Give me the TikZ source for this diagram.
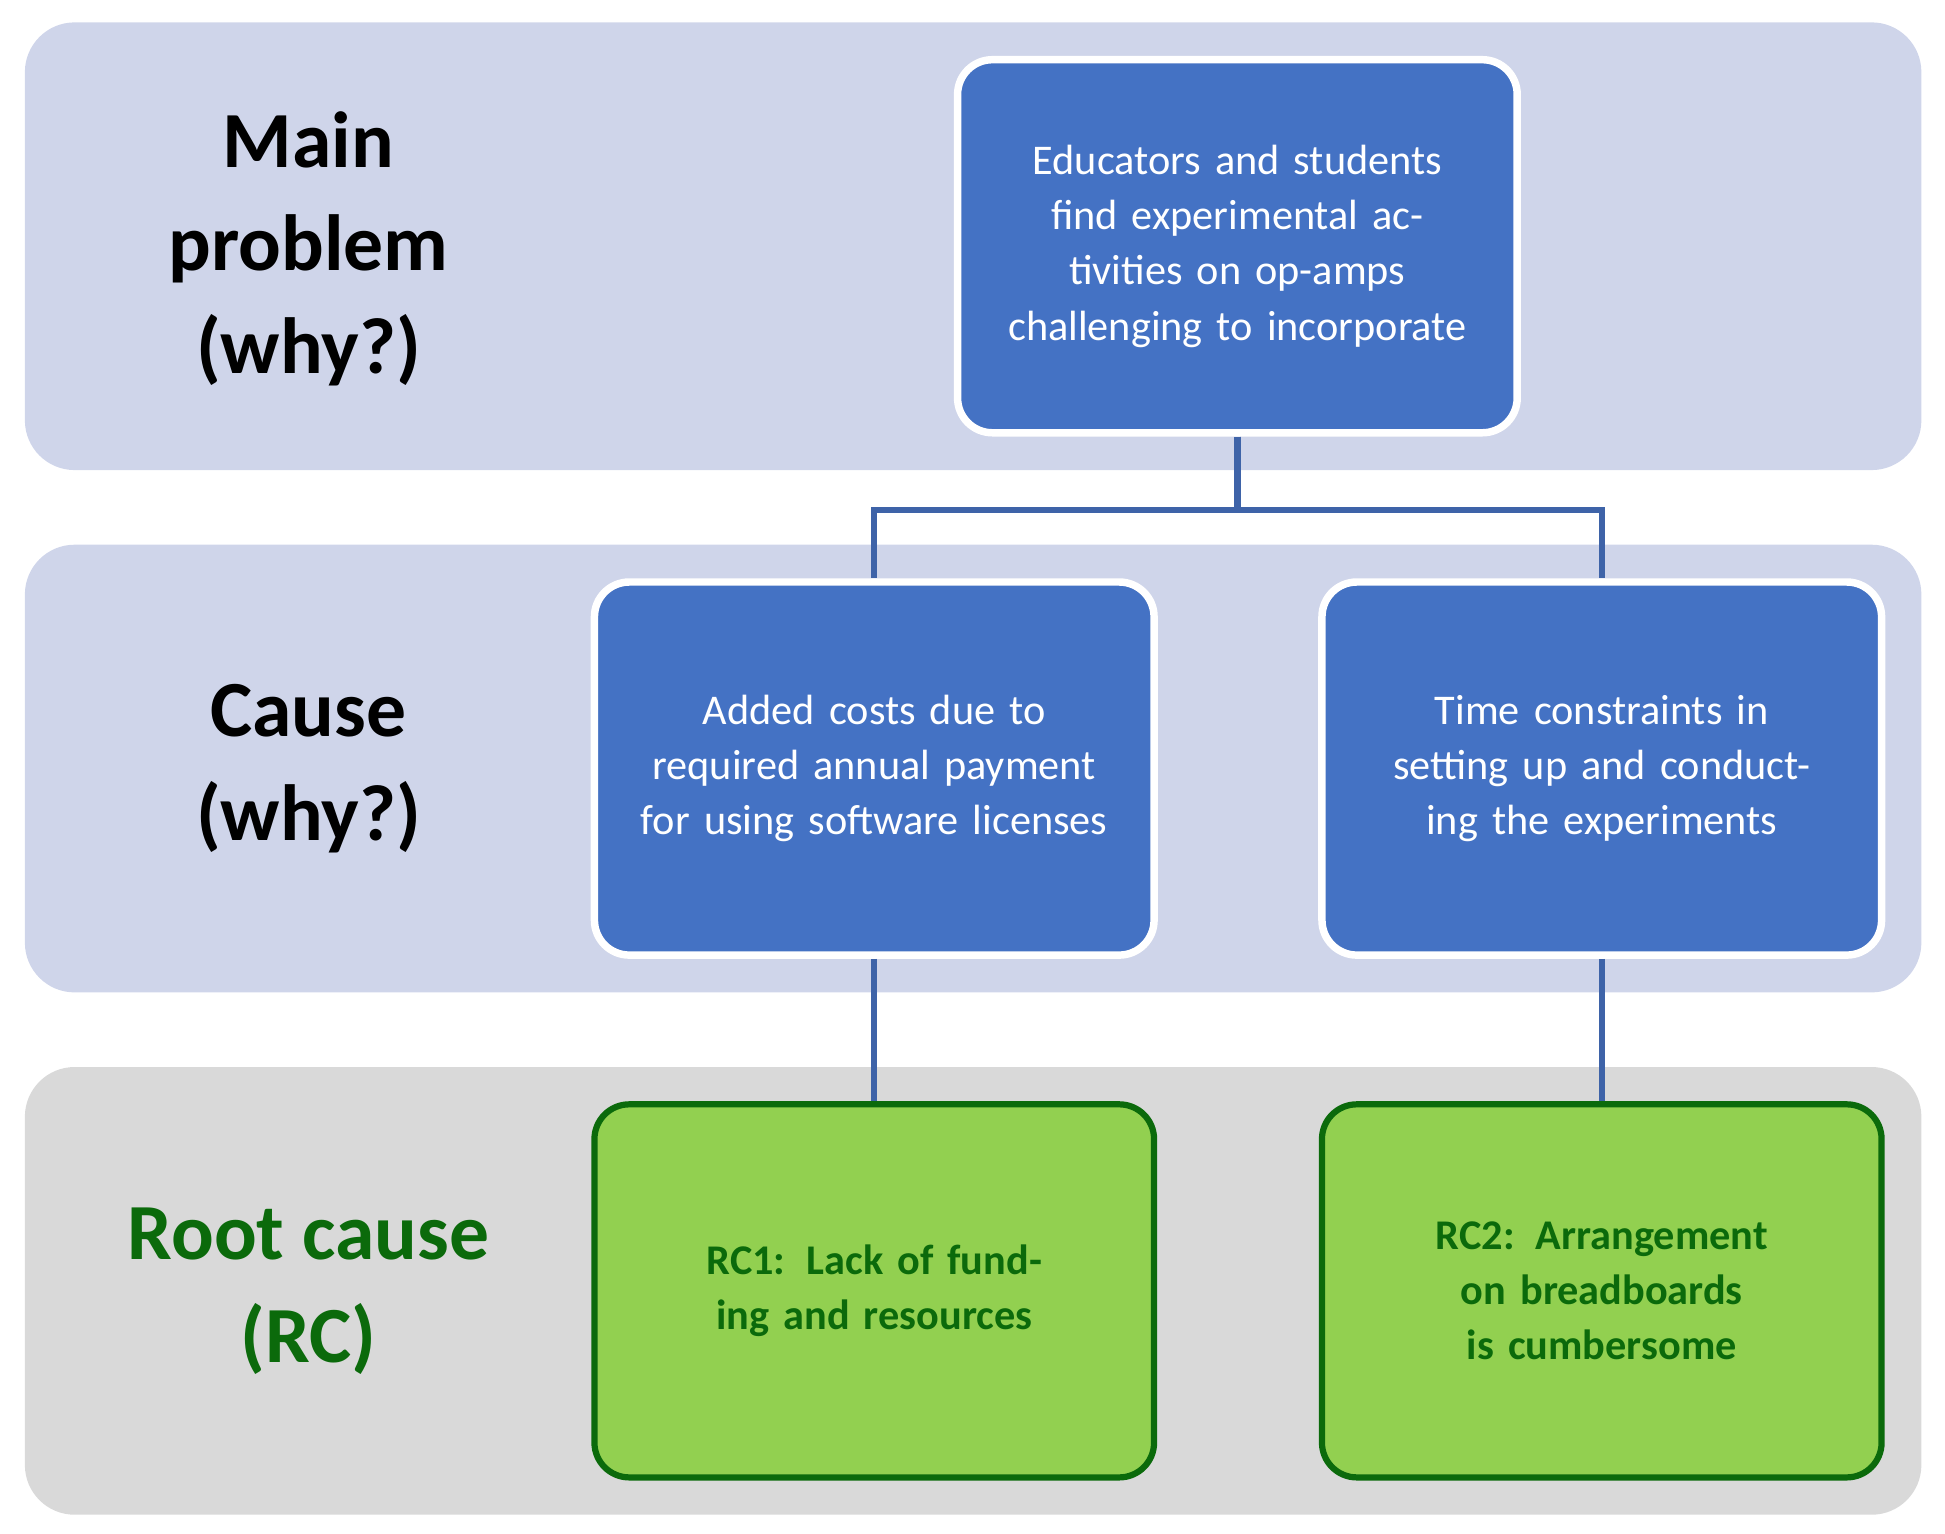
\documentclass[tikz,border=0pt]{standalone}
\usepackage{fontspec}
\setmainfont{Carlito}
\definecolor{band}{HTML}{CFD5EA}
\definecolor{gband}{HTML}{D9D9D9}
\definecolor{bbox}{HTML}{4472C4}
\definecolor{gbox}{HTML}{92D050}
\definecolor{dg}{HTML}{0B6A0B}
\definecolor{conn}{HTML}{3E63A8}
\begin{document}
\begin{tikzpicture}[x=1pt,y=-1pt,
 bandst/.style={rounded corners=40pt},
 blue/.style={draw=white,line width=6pt,fill=bbox,rounded corners=28pt,minimum width=450pt,minimum height=300pt,text=white,align=center,text width=400pt,font=\fontsize{34}{44.5}\selectfont},
 green/.style={draw=dg,line width=5pt,fill=gbox,rounded corners=28pt,minimum width=450pt,minimum height=300pt,text=dg,align=center,text width=400pt,font=\fontsize{34}{44.5}\selectfont\bfseries},
 lab/.style={align=center,font=\fontsize{64}{83}\selectfont\bfseries},
 con/.style={draw=conn,line width=5pt}]
\useasboundingbox (0,0) rectangle (1564,1233);
\fill[band,bandst] (20,18) rectangle (1545,378);
\fill[band,bandst] (20,438) rectangle (1545,798);
\fill[gband,bandst] (20,858) rectangle (1545,1218);
\node[lab] (l1) at (248,200) {Main\\problem\\(why?)};
\node[lab] (l2) at (248,618) {Cause\\(why?)};
\node[lab,text=dg] (l3) at (248,1038) {Root cause\\(RC)};
\node[blue] (m) at (995,198) {Educators and students find experimental activities on op-amps challenging to incorporate};
\node[blue] (c1) at (703,618) {Added costs due to required annual payment for using software licenses};
\node[blue] (c2) at (1288,618) {Time constraints in setting up and conducting the experiments};
\node[green] (r1) at (703,1038) {RC1: Lack of funding and resources};
\node[green] (r2) at (1288,1038) {RC2: Arrangement on breadboards is cumbersome};
\draw[con] (m.south) -- ++(0,59) -| (c1.north);
\draw[con] (m.south) -- ++(0,59) -| (c2.north);
\draw[con] (c1.south) -- (r1.north);
\draw[con] (c2.south) -- (r2.north);
\end{tikzpicture}
\end{document}
